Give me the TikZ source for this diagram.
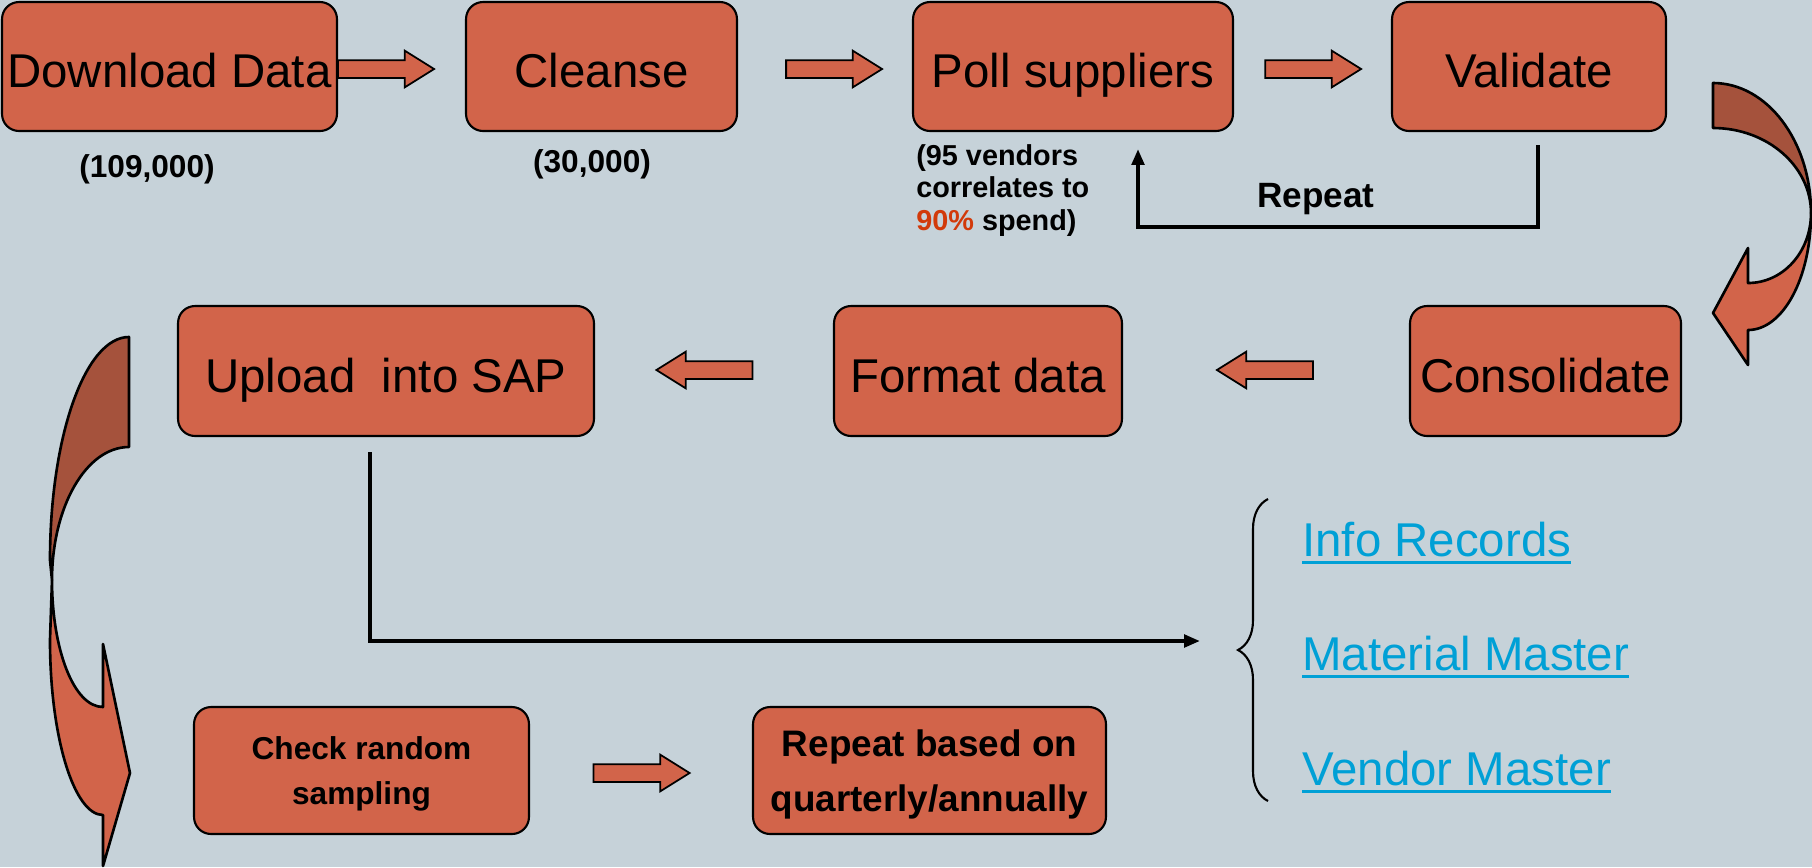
\documentclass[tikz,border=0pt]{standalone}
\usepackage{fontspec}
\setmainfont{Liberation Sans}
\usepackage{tikz}
\usetikzlibrary{shapes,arrows.meta,calc}
\usetikzlibrary{positioning, decorations.pathreplacing}
\definecolor{bgblue}{RGB}{198,210,217}
\definecolor{boxred}{RGB}{210,100,74}
\definecolor{darkred}{RGB}{165,82,60}
\definecolor{linkblue}{RGB}{0,160,214}
\definecolor{pctred}{RGB}{210,58,10}
\newcommand{\ulnk}[1]{\vtop{\hbox{#1}\kern2.5pt\hrule height 1.7pt}}
\tikzset{
  boxA/.style={ draw, rounded corners=0.34cm, fill=boxred, line width=1.2pt, inner sep=0pt, minimum height=2.58cm, text height=27pt, text depth=3pt, font=\fontsize{27}{32}\selectfont }
}
\tikzset{
  boxB/.style={ draw, rounded corners=0.34cm, fill=boxred, line width=1.2pt, inner sep=0pt, align=center, minimum height=2.54cm, text depth=0pt, font=\bfseries\fontsize{18}{26}\selectfont }
}
\tikzset{
  blkR/.style={ draw, single arrow, fill=boxred, line width=1pt, minimum height=1.92cm, inner sep=0.16cm, single arrow head extend=0.19cm, single arrow tip angle=64 }
}
\tikzset{
  blkL/.style={ blkR, shape border rotate=180 }
}
\tikzset{
  note/.style={ inner sep=0pt, font=\bfseries\fontsize{18}{21}\selectfont }
}
\tikzset{
  link/.style={ anchor=west, inner sep=0pt, text=linkblue, font=\fontsize{27}{32}\selectfont }
}
\tikzset{
  loopline/.style={ line width=2.2pt, -{Triangle[length=9pt, width=7pt]} }
}
\tikzset{
  curvarr/.style={ line width=1.5pt, line join=round }
}

\begin{document}
\begin{tikzpicture}[y=-0.02cm, x=0.02cm]
        \useasboundingbox (0,0) rectangle (1812,867);
        \fill[bgblue] (0,0) rectangle (1812,867);
        % first row
        \node[boxA, minimum width=6.7cm] (dl) at (169.5,66.5) {Download Data};
        \node[boxA, minimum width=5.42cm] (cl) at (601.5,66.5) {Cleanse};
        \node[boxA, minimum width=6.4cm] (poll) at (1073,66.5) {Poll suppliers};
        \node[boxA, minimum width=5.48cm] (val) at (1529,66.5) {Validate};
        \node[blkR] (a1) at (379,69) {};
        \node[blkR] (a2) at (827,69) {};
        \node[blkR] (a3) at (1306,69) {};
        \node[note] (n1) at (147,169) {(109,000)};
        \node[note] (n2) at (592,164) {(30,000)};
        \node[note, anchor=north west, align=left, font=\bfseries\fontsize{16.4}{18.5}\selectfont] (n3) at (916,144) {(95 vendors\\correlates to\\\textcolor{pctred}{90\%} spend)};
        \coordinate (rs) at ($(val.south)+(9,13)$);
        \coordinate (re) at ($(poll.south)+(65,17)$);
        \draw[loopline] (rs) -- ++(0,82) -| (re);
        \node[note, font=\bfseries\fontsize{20}{24}\selectfont] (rp) at (1316,199) {Repeat};
        % second row
        \node[boxA, minimum width=8.32cm, minimum height=2.6cm] (upl) at (386,371) {Upload\ \ into SAP};
        \node[boxA, minimum width=5.76cm, minimum height=2.6cm] (fmt) at (978,371) {Format data};
        \node[boxA, minimum width=5.42cm, minimum height=2.6cm] (cons) at (1545.5,371) {Consolidate};
        \node[blkL] (a4) at (711.5,370) {};
        \node[blkL] (a5) at (1272,370) {};
        % third row
        \node[boxB, minimum width=6.7cm] (chk) at (361.5,770.5) {Check random\\sampling};
        \node[boxB, minimum width=7.06cm, font=\bfseries\fontsize{21}{31}\selectfont] (rep) at (929.5,770.5) {Repeat based on\\quarterly/annually};
        \node[blkR] (a6) at (634.5,773) {};
        % upload line and records
        \coordinate (us) at ($(upl.south)+(-16,15)$);
        \coordinate (ue) at (1200,641);
        \draw[loopline] (us) |- (ue);
        \draw[line width=1.2pt, decorate, decoration={brace, amplitude=0.6cm}] (1268,801) -- (1268,499);
        \node[link] (ir) at (1302,543) {\ulnk{Info Records}};
        \node[link] (mm) at (1302,657) {\ulnk{Material Master}};
        \node[link] (vm) at (1302,772) {\ulnk{Vendor Master}};
        % curved arrow right
        \filldraw[curvarr, fill=darkred] (1713,83) .. controls (1767,83) and (1811,141) .. (1811,213)
          .. controls (1811,166) and (1767,128) .. (1713,128) -- cycle;
        \filldraw[curvarr, fill=boxred] (1811,213) .. controls (1811,278) and (1783,330) .. (1748,330)
          -- (1748,365) -- (1713,313) -- (1748,248) -- (1748,283)
          .. controls (1783,283) and (1811,252) .. (1811,213) -- cycle;
        % curved arrow left
        \filldraw[curvarr, fill=darkred] (129,337) .. controls (85,337) and (50,437) .. (50,560) -- (52,580)
          .. controls (52,507) and (86,447) .. (129,447) -- cycle;
        \filldraw[curvarr, fill=boxred] (52,580) -- (50,640) .. controls (50,737) and (74,815) .. (103,815)
          -- (103,866) -- (130,773) -- (103,644) -- (103,707)
          .. controls (74,707) and (52,650) .. (52,580) -- cycle;
      \end{tikzpicture}
\end{document}
